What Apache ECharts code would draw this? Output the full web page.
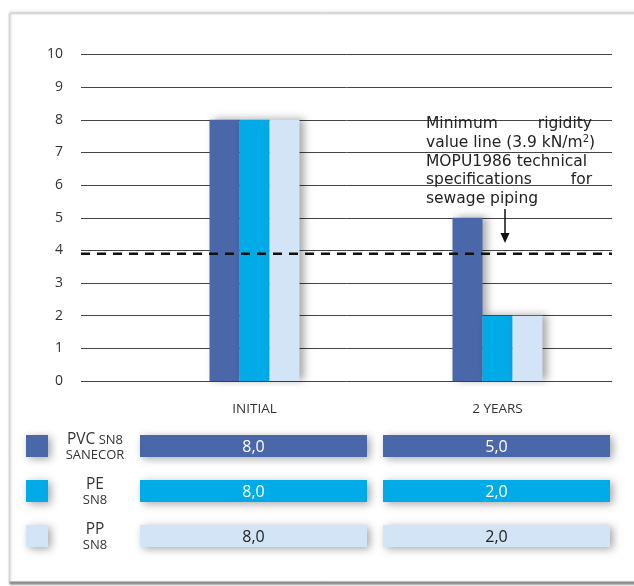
<!DOCTYPE html>
<html>
<head>
<meta charset="utf-8">
<script src="https://cdn.jsdelivr.net/npm/echarts@6/dist/echarts.min.js"></script>
<style>
  html, body { margin: 0; padding: 0; background: #fff; }
  #chart { width: 634px; height: 586px; }
</style>
</head>
<body>
<div id="chart"></div>
<script>
// Ring stiffness (kN/m²) of sewage pipes, at installation and after 2 years
const categories = ['INITIAL', '2 YEARS'];
const pvcValues = [8, 5];
const peValues = [8, 2];
const ppValues = [8, 2];
const seriesNames = [['PVC', 'SN8', 'SANECOR'], ['PE', '', 'SN8'], ['PP', '', 'SN8']];
const seriesColors = ['#4a67a9', '#00abe7', '#d2e4f5'];
const valueTextColors = ['#ffffff', '#ffffff', '#222222'];
const yTicks = [0, 1, 2, 3, 4, 5, 6, 7, 8, 9, 10];
const minRigidity = 3.9;

const FONT = '"Open Sans", sans-serif';
const NOTE_FONT = '"DejaVu Sans", sans-serif';
const allValues = [pvcValues, peValues, ppValues];
const fmt = v => v.toFixed(1).replace('.', ',');

const chart = echarts.init(document.getElementById('chart'), null, { renderer: 'canvas' });

const barShadow = {
  shadowBlur: 8,
  shadowColor: 'rgba(0,0,0,0.35)',
  shadowOffsetX: 4,
  shadowOffsetY: -1
};

// Value table below the plot
const graphics = [];
graphics.push({
  type: 'rect', z: 0,
  shape: { x: 10, y: 10, width: 640, height: 571 },
  style: { fill: '#fff', stroke: '#f2f2f2', lineWidth: 1,
           shadowBlur: 2, shadowOffsetY: 3, shadowColor: 'rgba(0,0,0,0.45)' }
});
const rowTop = [435, 480, 525];
const cellX = [140, 383];
const cellW = 227, cellH = 22;
const cellShadow = Object.assign({}, barShadow, { shadowOffsetX: 3, shadowOffsetY: 2 });
allValues.forEach((vals, r) => {
  const y = rowTop[r];
  graphics.push({
    type: 'rect', z: 10,
    shape: { x: 26, y: y, width: 22, height: cellH },
    style: Object.assign({ fill: seriesColors[r] }, cellShadow)
  });
  const nm = seriesNames[r];
  graphics.push({
    type: 'text', z: 10,
    style: {
      x: 95, y: y + 5, align: 'center', verticalAlign: 'middle',
      text: nm[1] ? '{a|' + nm[0] + '} {b|' + nm[1] + '}' : '{a|' + nm[0] + '}',
      rich: {
        a: { fontFamily: FONT, fontSize: 15.5, fill: '#333' },
        b: { fontFamily: FONT, fontSize: 13, fill: '#333' }
      }
    }
  });
  graphics.push({
    type: 'text', z: 10,
    style: { x: 95, y: y + 20, align: 'center', verticalAlign: 'middle',
             text: nm[2], fontFamily: FONT, fontSize: 13, fill: '#333' }
  });
  vals.forEach((v, c) => {
    graphics.push({
      type: 'rect', z: 10,
      shape: { x: cellX[c], y: y, width: cellW, height: cellH },
      style: Object.assign({ fill: seriesColors[r] }, cellShadow)
    });
    graphics.push({
      type: 'text', z: 11,
      style: { x: cellX[c] + cellW / 2, y: y + cellH / 2 + 1, align: 'center', verticalAlign: 'middle',
               text: fmt(v), fontFamily: FONT, fontSize: 16, fill: valueTextColors[r] }
    });
  });
});

// Annotation for the minimum rigidity line
const noteStyle = { fontFamily: NOTE_FONT, fontSize: 15.5, fill: '#222', verticalAlign: 'middle' };
const noteLeft = 426, noteRight = 592;
const noteLines = [
  { y: 124, left: 'Minimum', right: 'rigidity' },
  { y: 143, left: 'value line (' + minRigidity.toFixed(1) + ' kN/m{s|2})' },
  { y: 162, left: 'MOPU1986 technical' },
  { y: 180, left: 'specifications', right: 'for' },
  { y: 199, left: 'sewage piping' }
];
noteLines.forEach(l => {
  graphics.push({
    type: 'text', z: 12,
    style: Object.assign({}, noteStyle, {
      x: noteLeft, y: l.y, align: 'left', text: l.left,
      rich: { s: { fontFamily: NOTE_FONT, fontSize: 10, fill: '#222', verticalAlign: 'top', padding: [0, 0, 7, 0] } }
    })
  });
  if (l.right) {
    graphics.push({
      type: 'text', z: 12,
      style: Object.assign({}, noteStyle, { x: noteRight, y: l.y, align: 'right', text: l.right })
    });
  }
});
graphics.push({
  type: 'line', z: 12,
  shape: { x1: 505, y1: 209, x2: 505, y2: 236 },
  style: { stroke: '#111', lineWidth: 1.5 }
});
graphics.push({
  type: 'polygon', z: 12,
  shape: { points: [[500.5, 233], [509.5, 233], [505, 243]] },
  style: { fill: '#111' }
});

const option = {
  backgroundColor: '#fff',
  animation: false,
  grid: [
    { left: 81, right: 22, top: 54.5, bottom: 205 },
    { left: 133, right: 15, top: 54.5, bottom: 205 }
  ],
  xAxis: [
    { gridIndex: 0, type: 'value', min: 0, max: 1, show: false },
    {
      gridIndex: 1, type: 'category', data: categories,
      axisLine: { show: false }, axisTick: { show: false },
      axisLabel: { color: '#333', fontFamily: FONT, fontSize: 13.5, margin: 21 }
    }
  ],
  yAxis: [
    {
      gridIndex: 0, type: 'value', min: yTicks[0], max: yTicks[yTicks.length - 1], interval: 1,
      axisLine: { show: false }, axisTick: { show: false },
      axisLabel: { color: '#333', fontFamily: FONT, fontSize: 14, margin: 18 },
      splitLine: { show: true, lineStyle: { color: '#444', width: 1 } }
    },
    { gridIndex: 1, type: 'value', min: 0, max: 10, show: false }
  ],
  series: [
    {
      type: 'line', xAxisIndex: 0, yAxisIndex: 0,
      data: [[0, minRigidity], [1, minRigidity]],
      symbol: 'none', silent: true, z: 5,
      lineStyle: { color: '#111', width: 2.5, type: [9, 7] }
    },
    ...allValues.map((vals, i) => ({
      name: seriesNames[i].join(' '),
      type: 'bar', xAxisIndex: 1, yAxisIndex: 1,
      data: vals, barWidth: 30, barGap: '0%',
      itemStyle: Object.assign({ color: seriesColors[i] }, barShadow),
      z: 3 + i
    }))
  ],
  graphic: { elements: graphics }
};

chart.setOption(option);
</script>
</body>
</html>
